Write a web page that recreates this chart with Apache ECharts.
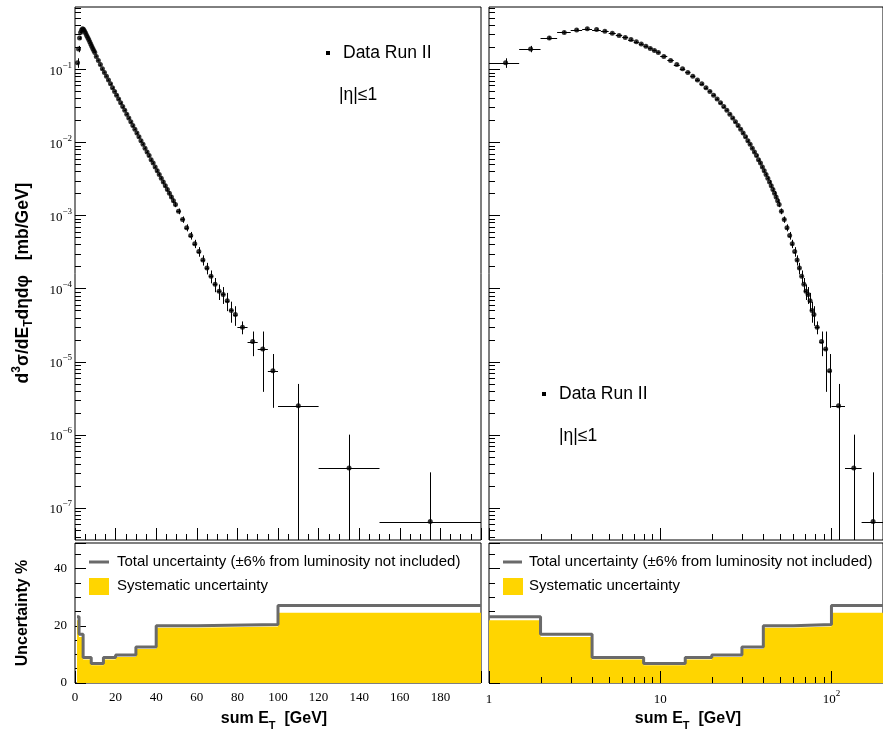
<!DOCTYPE html>
<html><head><meta charset="utf-8">
<script src="https://cdn.jsdelivr.net/npm/echarts@6/dist/echarts.min.js"></script>
<style>html,body{margin:0;padding:0;background:#fff}#c{width:883px;height:732px}</style>
</head><body><div id="c"></div>
<script>
// ---------------- data ----------------
const binEdges = [1,1.5,2,2.5,3,3.5,4,4.5,5,5.5,6,6.5,7,7.5,8,8.5,9,9.5,10,
  11,12,13,14,15,16,17,18,19,20,21,22,23,24,25,26,27,28,29,30,
  31,32,33,34,35,36,37,38,39,40,41,42,43,44,45,46,47,48,49,50,
  52,54,56,58,60,62,64,66,68,70,72,74,76,78,80,
  85,90,95,100,120,150,200];
const crossSection = [0.123,0.190,0.268,0.320,0.346,0.358,0.350,0.332,0.311,0.291,0.273,0.255,0.238,0.222,0.206,0.193,0.181,0.170,
  0.150,0.132,0.116,0.102,0.0905,0.0803,0.0712,0.0632,0.0561,0.0498,
  0.0442,0.0392,0.0348,0.0309,0.0274,0.0243,0.0216,0.0191,0.0170,0.0151,
  0.0134,0.0119,0.0105,0.0094,0.0083,0.0074,0.0066,0.0058,0.0052,0.0046,
  0.0041,0.00364,0.00323,0.00287,0.00255,0.00226,0.00201,0.00179,0.00159,0.00141,
  0.00114,0.00088,0.00068,0.00053,0.00041,0.00032,0.000245,0.000190,0.000147,0.000114,
  0.0000915,0.000083,0.000068,0.000050,0.000044,
  2.95e-5,1.88e-5,1.48e-5,7.5e-6,
  2.48e-6,3.48e-7,6.45e-8];
const relErrPct = [15,10,5,4,4,4,3,3,3,3,3,3,3,3,3,3,3,3,
  3,3,3,3,3,3,3,3,3,3,
  3,3,3,3,3,3,3,3,3,3,
  4,4,4,4,4,4,4,4,4,4,
  5,5,5,6,6,6,7,7,7,8,
  9,10,11,12,13,15,16,18,20,22,
  24,26,28,32,30,
  20,37,74,69,
  99,187,372];
const uncEdges = [1,2,4,8,14,20,30,40,60,100,200];
const totalUnc = [23.2,17.1,8.9,6.8,8.9,9.8,12.6,20.0,20.5,27.1];
const systUnc  = [22.0,16.1,8.2,6.2,8.2,9.1,11.9,19.3,19.8,24.6];
const legendTotal = 'Total uncertainty (\u00b16% from luminosity not included)';
const legendSyst = 'Systematic uncertainty';
const legendData = 'Data Run II';
const etaCut = '|\u03b7|\u22641';

// ---------------- helpers ----------------
const Y_MIN = 3.61e-8, Y_MAX = 0.712;
const X_LIN_MAX = 200, X_LOG_MIN = 1, X_LOG_MAX = 200;
const U_MAX = 49;
const serif = 'Liberation Serif';
const sans = 'Liberation Sans';

const points = [], bars = [];
for (let i = 0; i < crossSection.length; i++) {
  const lo = binEdges[i], hi = binEdges[i+1], v = crossSection[i];
  const c = (lo + hi) / 2;
  const e = v * relErrPct[i] / 100;
  points.push([c, v]);
  bars.push([lo, hi, v, e, c]);
}
function steps(edges, vals) {
  const out = [];
  for (let i = 0; i < vals.length; i++) { out.push([edges[i], vals[i]]); out.push([edges[i+1], vals[i]]); }
  return out;
}
function crisp(v) { return Math.round(v) + 0.5; }

function errRender(params, api) {
  const lo = api.value(0), hi = api.value(1), v = api.value(2), e = api.value(3), c = api.value(4);
  const pL = api.coord([lo, v]), pR = api.coord([hi, v]);
  const pU = api.coord([c, Math.min(v + e, Y_MAX)]);
  const pD = api.coord([c, Math.max(v - e, Y_MIN)]);
  const y = crisp(pL[1]), x = crisp(pU[0]);
  return {type: 'group', children: [
    {type: 'line', shape: {x1: pL[0], y1: y, x2: pR[0], y2: y}, style: {stroke: '#000', lineWidth: 1}},
    {type: 'line', shape: {x1: x, y1: pU[1], x2: x, y2: pD[1]}, style: {stroke: '#000', lineWidth: 1}}
  ]};
}
// tick renderer: item = [xval, yval, len, kind] kind 0: x-axis tick (bottom), 1: y-axis tick (left)
function tickRender(params, api) {
  const cs = params.coordSys;
  const p = api.coord([api.value(0), api.value(1)]);
  const len = api.value(2), kind = api.value(3);
  if (kind === 0) {
    const x = crisp(p[0]), yb = cs.y + cs.height;
    return {type: 'line', shape: {x1: x, y1: yb, x2: x, y2: yb - len}, style: {stroke: '#000', lineWidth: 1}};
  } else {
    const y = crisp(p[1]), xl = cs.x;
    return {type: 'line', shape: {x1: xl, y1: y, x2: xl + len, y2: y}, style: {stroke: '#000', lineWidth: 1}};
  }
}
function logYTicks(xRef) {
  const out = [];
  for (let k = -8; k <= 0; k++) {
    for (let m = 1; m <= 9; m++) {
      const v = m * Math.pow(10, k);
      if (v > Y_MIN && v < Y_MAX) out.push([xRef, v, m === 1 ? 11 : 6, 1]);
    }
  }
  return out;
}
function logXTicks(yRef, majorLen, minorLen) {
  const out = [];
  for (let k = 0; k <= 2; k++) {
    for (let m = 1; m <= 9; m++) {
      const v = m * Math.pow(10, k);
      if (v >= X_LOG_MIN && v <= X_LOG_MAX) out.push([v, yRef, m === 1 ? majorLen : minorLen, 0]);
    }
  }
  return out;
}
function isPow10(v) { const l = Math.log10(v); return Math.abs(l - Math.round(l)) < 1e-6; }

const supRich = {
  b: {fontFamily: serif, fontSize: 13, lineHeight: 17, verticalAlign: 'bottom', color: '#000'},
  sup: {fontFamily: serif, fontSize: 9, lineHeight: 17, verticalAlign: 'top', color: '#000'}
};

const grids = [
  {left: 75, top: 7, width: 406, height: 533},
  {left: 489, top: 7, width: 405, height: 533},
  {left: 75, top: 543, width: 406, height: 140},
  {left: 489, top: 543, width: 405, height: 140}
].map(g => Object.assign(g, {show: true, borderColor: '#000', borderWidth: 1, backgroundColor: 'transparent', containLabel: false}));

const linX = (gi, labels) => ({
  type: 'value', gridIndex: gi, min: 0, max: X_LIN_MAX, interval: 20,
  axisLine: {show: false}, splitLine: {show: false},
  axisTick: {show: true, inside: true, length: 12, lineStyle: {color: '#000'}},
  minorTick: {show: true, splitNumber: 4, length: 6, lineStyle: {color: '#000'}},
  axisLabel: {show: labels, showMaxLabel: false, margin: 8, fontFamily: serif, fontSize: 13, color: '#000'}
});
const logX = (gi, labels) => ({
  type: 'log', logBase: 10, gridIndex: gi, min: X_LOG_MIN, max: X_LOG_MAX,
  axisLine: {show: false}, splitLine: {show: false}, axisTick: {show: false}, minorTick: {show: false},
  axisLabel: {show: labels, margin: 6, showMaxLabel: false,
    formatter: v => { if (!isPow10(v)) return ''; const e = Math.round(Math.log10(v));
      return e === 0 ? '{b|1}' : e === 1 ? '{b|10}' : '{b|10}{sup|' + e + '}'; },
    rich: supRich}
});
const logY = (gi, labels) => ({
  type: 'log', logBase: 10, gridIndex: gi, min: Y_MIN, max: Y_MAX,
  axisLine: {show: false}, splitLine: {show: false}, axisTick: {show: false}, minorTick: {show: false},
  axisLabel: {show: labels, margin: 3, showMinLabel: false, showMaxLabel: false,
    formatter: v => { if (!isPow10(v)) return ''; const e = Math.round(Math.log10(v));
      return '{b|10}{sup|\u2212' + (-e) + '}'; },
    rich: supRich}
});
const uncY = (gi, labels) => ({
  type: 'value', gridIndex: gi, min: 0, max: U_MAX, interval: 20,
  axisLine: {show: false}, splitLine: {show: false},
  axisTick: {show: true, inside: true, length: 11, lineStyle: {color: '#000'}},
  minorTick: {show: true, splitNumber: 4, length: 6, lineStyle: {color: '#000'}},
  axisLabel: {show: labels, showMaxLabel: false, margin: 8, fontFamily: serif, fontSize: 13, color: '#000'}
});

const GRAY = '#6a6a6a', GOLD = '#ffd500';
const series = [];
[0, 1].forEach(gi => {
  series.push({type: 'custom', xAxisIndex: gi, yAxisIndex: gi, data: bars, encode: {x: 4, y: 2},
    renderItem: errRender, clip: true, silent: true, z: 3});
  series.push({type: 'scatter', xAxisIndex: gi, yAxisIndex: gi, data: points, symbol: 'circle',
    symbolSize: 5, itemStyle: {color: '#000'}, silent: true, z: 4, clip: true});
});
[2, 3].forEach(gi => {
  series.push({type: 'line', xAxisIndex: gi, yAxisIndex: gi, data: steps(uncEdges, systUnc), symbol: 'none',
    lineStyle: {width: 0, color: GOLD}, areaStyle: {color: GOLD, opacity: 1}, silent: true, z: 2});
  series.push({type: 'line', xAxisIndex: gi, yAxisIndex: gi, data: steps(uncEdges, totalUnc), symbol: 'none',
    lineStyle: {width: 3, color: GRAY}, silent: true, z: 3});
});
// log ticks
series.push({type: 'custom', xAxisIndex: 0, yAxisIndex: 0, data: logYTicks(100), renderItem: tickRender, silent: true, z: 5, clip: false});
series.push({type: 'custom', xAxisIndex: 1, yAxisIndex: 1, data: logYTicks(10).concat(logXTicks(1e-3, 12, 6)), renderItem: tickRender, silent: true, z: 5, clip: false});
series.push({type: 'custom', xAxisIndex: 3, yAxisIndex: 3, data: logXTicks(10, 12, 6), renderItem: tickRender, silent: true, z: 5, clip: false});

const titleRich = (fs) => ({
  b: {fontFamily: sans, fontWeight: 'bold', fontSize: fs, lineHeight: 24, verticalAlign: 'middle', color: '#000'},
  sup: {fontFamily: sans, fontWeight: 'bold', fontSize: Math.round(fs * 0.7), lineHeight: 24, verticalAlign: 'top', color: '#000'},
  sub: {fontFamily: sans, fontWeight: 'bold', fontSize: Math.round(fs * 0.7), lineHeight: 24, verticalAlign: 'bottom', color: '#000'}
});
const legRich = {fontFamily: sans, fontSize: 15, fill: '#000'};

const graphic = [
  {type: 'text', x: 23, y: 283, rotation: Math.PI / 2, style: {
    text: '{b|d}{sup|3}{b|\u03c3/dE}{sub|T}{b|d\u03b7d\u03c6   [mb/GeV]}', rich: titleRich(17.5),
    align: 'center', verticalAlign: 'middle'}},
  {type: 'text', x: 23, y: 613, rotation: Math.PI / 2, style: {
    text: '{b|Uncertainty %}', rich: titleRich(16), align: 'center', verticalAlign: 'middle'}},
  {type: 'text', x: 274, y: 719, style: {text: '{b|sum E}{sub|T}{b|  [GeV]}', rich: titleRich(16), align: 'center', verticalAlign: 'middle'}},
  {type: 'text', x: 688, y: 719, style: {text: '{b|sum E}{sub|T}{b|  [GeV]}', rich: titleRich(16), align: 'center', verticalAlign: 'middle'}},
  // data legends
  {type: 'rect', shape: {x: 326, y: 51, width: 4, height: 4}, style: {fill: '#000'}},
  {type: 'text', x: 343, y: 53, style: {text: legendData, fontFamily: sans, fontSize: 17.5, fill: '#000', verticalAlign: 'middle'}},
  {type: 'text', x: 339, y: 95, style: {text: etaCut, fontFamily: sans, fontSize: 17.5, fill: '#000', verticalAlign: 'middle'}},
  {type: 'rect', shape: {x: 542, y: 392, width: 4, height: 4}, style: {fill: '#000'}},
  {type: 'text', x: 559, y: 394, style: {text: legendData, fontFamily: sans, fontSize: 17.5, fill: '#000', verticalAlign: 'middle'}},
  {type: 'text', x: 559, y: 436, style: {text: etaCut, fontFamily: sans, fontSize: 17.5, fill: '#000', verticalAlign: 'middle'}},
  // uncertainty legends
  {type: 'line', shape: {x1: 89, y1: 562, x2: 109, y2: 562}, style: {stroke: GRAY, lineWidth: 3}},
  {type: 'text', x: 117, y: 562, style: Object.assign({text: legendTotal, verticalAlign: 'middle'}, legRich)},
  {type: 'rect', shape: {x: 89, y: 578, width: 20, height: 17}, style: {fill: GOLD}},
  {type: 'text', x: 117, y: 586, style: Object.assign({text: legendSyst, verticalAlign: 'middle'}, legRich)},
  {type: 'line', shape: {x1: 503, y1: 562, x2: 522, y2: 562}, style: {stroke: GRAY, lineWidth: 3}},
  {type: 'text', x: 529, y: 562, style: Object.assign({text: legendTotal, verticalAlign: 'middle'}, legRich)},
  {type: 'rect', shape: {x: 503, y: 578, width: 20, height: 17}, style: {fill: GOLD}},
  {type: 'text', x: 529, y: 586, style: Object.assign({text: legendSyst, verticalAlign: 'middle'}, legRich)}
];

const chart = echarts.init(document.getElementById('c'), null, {renderer: 'canvas'});
chart.setOption({
  animation: false,
  backgroundColor: '#fff',
  grid: grids,
  xAxis: [linX(0, false), logX(1, false), linX(2, true), logX(3, true)],
  yAxis: [logY(0, true), logY(1, false), uncY(2, true), uncY(3, false)],
  series: series,
  graphic: graphic
});
</script></body></html>
